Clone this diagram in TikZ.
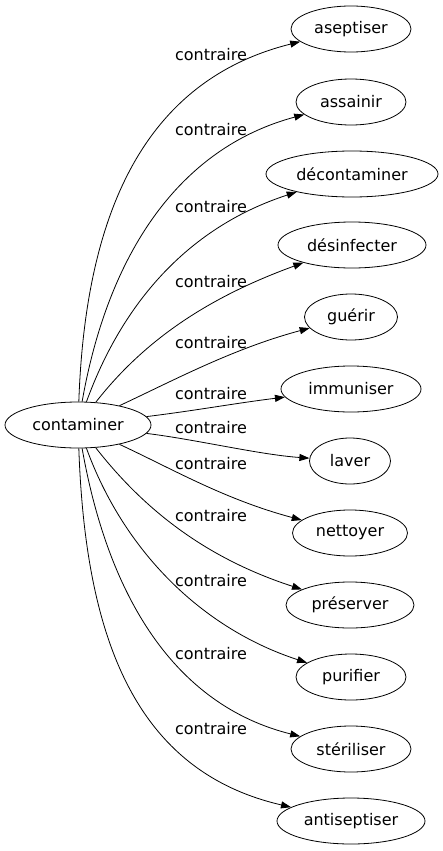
\documentclass[tikz,border=0pt]{standalone}
\usepackage{fontspec}
\setmainfont{DejaVu Sans}
\usetikzlibrary{arrows.meta,shapes.geometric}
\begin{document}
\begin{tikzpicture}[x=1pt,y=1pt,
  word/.style={draw, ellipse, line width=0.8pt, minimum height=46pt, inner sep=0pt, font=\fontsize{16}{19}\selectfont},
  lab/.style={font=\fontsize{16}{19}\selectfont, inner sep=0pt},
  rel/.style={line width=0.8pt, -{Triangle[length=10pt,width=7pt]}}]
\useasboundingbox (0,0) rectangle (442,-851);
\node[word, minimum width=146pt] (c) at (78,-425) {contaminer};
\node[word, minimum width=120pt] (t1) at (351,-29) {aseptiser};
\node[word, minimum width=110pt] (t2) at (351,-102) {assainir};
\node[word, minimum width=172pt] (t3) at (352,-174) {décontaminer};
\node[word, minimum width=148pt] (t4) at (352,-245) {désinfecter};
\node[word, minimum width=93pt] (t5) at (351,-317) {guérir};
\node[word, minimum width=140pt] (t6) at (351,-389) {immuniser};
\node[word, minimum width=81pt] (t7) at (350,-461) {laver};
\node[word, minimum width=115pt] (t8) at (350,-533) {nettoyer};
\node[word, minimum width=128pt] (t9) at (350,-605) {préserver};
\node[word, minimum width=110pt] (t10) at (351,-677) {purifier};
\node[word, minimum width=120pt] (t11) at (351,-749) {stériliser};
\node[word, minimum width=148pt] (t12) at (351,-821) {antiseptiser};
\node[lab] (l1) at (211,-55) {contraire};
\node[lab] (l2) at (211,-130) {contraire};
\node[lab] (l3) at (211,-207) {contraire};
\node[lab] (l4) at (211,-282) {contraire};
\node[lab] (l5) at (211,-343) {contraire};
\node[lab] (l6) at (211,-394) {contraire};
\node[lab] (l7) at (211,-428) {contraire};
\node[lab] (l8) at (211,-464) {contraire};
\node[lab] (l9) at (211,-516) {contraire};
\node[lab] (l10) at (211,-581) {contraire};
\node[lab] (l11) at (211,-654) {contraire};
\node[lab] (l12) at (211,-729) {contraire};
\draw[rel] (c.88) .. controls +(88:190) and +(194:160) .. (t1.194);
\draw[rel] (c.80) .. controls +(80:150) and +(195:130) .. (t2.195);
\draw[rel] (c.70) .. controls +(70:110) and +(198:110) .. (t3.198);
\draw[rel] (c.52) .. controls +(52:80) and +(200:100) .. (t4.200);
\draw[rel] (c.25) .. controls +(25:60) and +(195:80) .. (t5.195);
\draw[rel] (c.7) .. controls +(7:50) and +(187:50) .. (t6.187);
\draw[rel] (c.-7) .. controls +(-7:50) and +(176:50) .. (t7.176);
\draw[rel] (c.-25) .. controls +(-25:60) and +(165:80) .. (t8.165);
\draw[rel] (c.-52) .. controls +(-52:80) and +(162:100) .. (t9.162);
\draw[rel] (c.-70) .. controls +(-70:110) and +(162:110) .. (t10.162);
\draw[rel] (c.-80) .. controls +(-80:150) and +(166:130) .. (t11.166);
\draw[rel] (c.-88) .. controls +(-88:190) and +(167:160) .. (t12.167);
\end{tikzpicture}
\end{document}
